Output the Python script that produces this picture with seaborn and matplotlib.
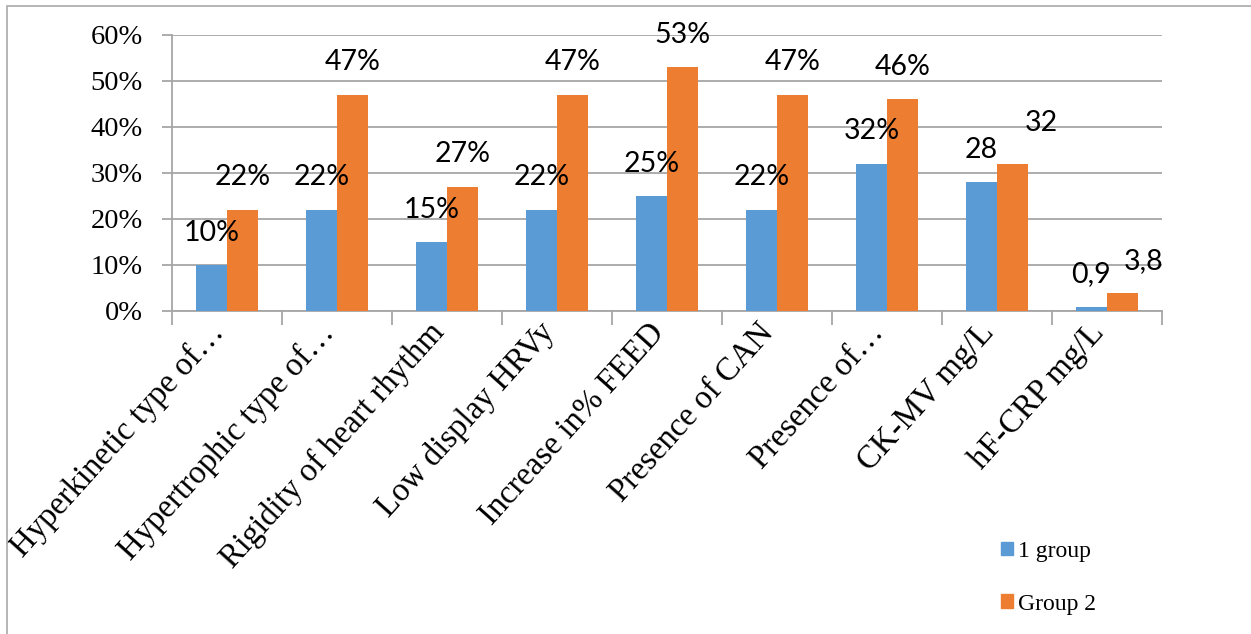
import pandas as pd
import matplotlib.pyplot as plt
import seaborn as sns
from matplotlib.patches import Rectangle
from matplotlib.transforms import ScaledTranslation

# Data (values in percent of the y axis)
categories = [
    "Hyperkinetic type of…",
    "Hypertrophic type of…",
    "Rigidity of heart rhythm",
    "Low display HRVy",
    "Increase in% FEED",
    "Presence of CAN",
    "Presence of…",
    "CK-MV mg/L",
    "hF-CRP mg/L",
]
group1 = [10, 22, 15, 22, 25, 22, 32, 28, 0.9]
group2 = [22, 47, 27, 47, 53, 47, 46, 32, 3.8]
labels1 = ["10%", "22%", "15%", "22%", "25%", "22%", "32%", "28", "0,9"]
labels2 = ["22%", "47%", "27%", "47%", "53%", "47%", "46%", "32", "3,8"]
series_names = ["1 group", "Group 2"]
yticks = [0, 10, 20, 30, 40, 50, 60]

blue = "#5B9BD5"
orange = "#ED7D31"
grid_grey = "#A6A6A6"

df = pd.DataFrame({
    "category": categories * 2,
    "value": group1 + group2,
    "group": [series_names[0]] * len(categories) + [series_names[1]] * len(categories),
})

fig = plt.figure(figsize=(12.51, 6.34), dpi=100)
ax = fig.add_axes([0.1375, 0.5095, 0.7914, 0.4353])

sns.barplot(data=df, x="category", y="value", hue="group",
            palette=[blue, orange], width=0.57, saturation=1,
            linewidth=0, ax=ax, legend=False, zorder=3)

# Data labels above the bars (a couple were dragged aside in the original)
pad = 14
nudges = {(1, 7): (29, 8), (1, 8): (21, 0)}  # (series, index): (dx px, dy px)
for si, (cont, labs) in enumerate(zip(ax.containers, [labels1, labels2])):
    texts = ax.bar_label(cont, labels=labs, padding=pad, fontsize=20.5,
                         family="Lato", color="black")
    for i, t in enumerate(texts):
        if (si, i) in nudges:
            dx, dy = nudges[(si, i)]
            t.xyann = (dx * 0.72, pad + dy * 0.72)

ax.set_ylim(0, 60)
ax.set_xlim(-0.5, len(categories) - 0.5)
ax.set_yticks(yticks)
ax.set_yticklabels([f"{v}%" for v in yticks], family="Liberation Serif", fontsize=20.5)
ax.tick_params(axis="y", length=7, color=grid_grey, width=1.3, pad=14)
ax.yaxis.grid(True, color=grid_grey, linewidth=1.3, zorder=0)
ax.set_axisbelow(True)

ax.set_xticks(range(len(categories)))
ax.set_xticklabels(categories, rotation=48, ha="right", va="center",
                   rotation_mode="anchor", family="Liberation Serif", fontsize=23.5)
ax.tick_params(axis="x", length=0, pad=12)
shift = ScaledTranslation(-8 / 100, 0, fig.dpi_scale_trans)
for lab in ax.get_xticklabels():
    lab.set_transform(lab.get_transform() + shift)
ax.set_xticks([i - 0.5 for i in range(len(categories) + 1)], minor=True)
ax.tick_params(axis="x", which="minor", length=10, color=grid_grey, width=1.3)

ax.set_xlabel("")
ax.set_ylabel("")
for s in ["top", "right"]:
    ax.spines[s].set_visible(False)
for s in ["left", "bottom"]:
    ax.spines[s].set_color(grid_grey)
    ax.spines[s].set_linewidth(1.3)

# Legend at bottom right
handles = [Rectangle((0, 0), 1, 1, color=blue), Rectangle((0, 0), 1, 1, color=orange)]
fig.legend(handles, series_names, loc="center left", bbox_to_anchor=(0.783, 0.089),
           frameon=False, handlelength=0.5, handleheight=0.5, handletextpad=0.25,
           labelspacing=1.35, prop={"family": "Liberation Serif", "size": 17})

# Outer chart border
fig.patches.append(Rectangle((7 / 1251, -0.1), 2, 1 - 6 / 634 + 0.1,
                             transform=fig.transFigure, fill=False,
                             edgecolor="#B0B0B0", linewidth=1.3))

plt.savefig("out.png", dpi=100)
